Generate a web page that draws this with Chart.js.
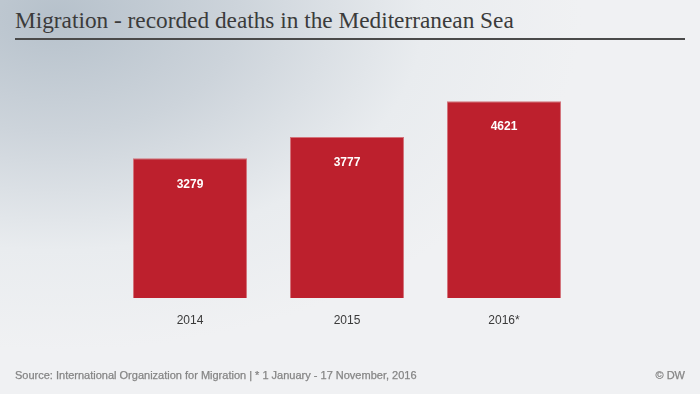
<!DOCTYPE html>
<html>
<head>
<meta charset="utf-8">
<script src="https://cdn.jsdelivr.net/npm/chart.js@4"></script>
<style>
  html, body { margin: 0; padding: 0; }
  body {
    width: 700px; height: 394px; position: relative; overflow: hidden;
    background: radial-gradient(ellipse 75% 85% at 8% 4%, #b6c1cb 0%, #cdd4db 35%, #e9ecef 70%, #f0f1f3 100%);
  }
  #title {
    position: absolute; left: 15px; top: 7px;
    font-family: "Liberation Serif", serif; font-size: 23.3px; color: #3b3b3b;
  }
  #rule { position: absolute; left: 15px; top: 38px; width: 670px; height: 0; border-top: 2px solid #4a4a4a; }
  #source, #dw {
    position: absolute; top: 369px;
    font-family: "Liberation Sans", Arial, sans-serif; font-size: 11px; color: #858585;
    -webkit-text-stroke: 0.25px #858585;
  }
  #source { left: 15px; }
  #dw { right: 15px; }
  canvas { position: absolute; left: 0; top: 0; }
</style>
</head>
<body>
<div id="title">Migration - recorded deaths in the Mediterranean Sea</div>
<div id="rule"></div>
<canvas id="chart" width="700" height="394"></canvas>
<div id="source">Source: International Organization for Migration | * 1 January - 17 November, 2016</div>
<div id="dw">© DW</div>
<script>
// données
const years = ['2014', '2015', '2016*'];
const deaths = [3279, 3777, 4621];

// étiquettes blanches dans les barres
const barLabels = {
  id: 'barLabels',
  afterDatasetsDraw(chart) {
    const ctx = chart.ctx;
    const meta = chart.getDatasetMeta(0);
    ctx.save();
    ctx.fillStyle = '#ffffff';
    ctx.font = 'bold 12px "Liberation Sans", Arial, sans-serif';
    ctx.textAlign = 'center';
    ctx.textBaseline = 'middle';
    meta.data.forEach((bar, i) => {
      ctx.fillText(deaths[i], bar.x, bar.y + 26);
    });
    ctx.restore();
  }
};

new Chart(document.getElementById('chart'), {
  type: 'bar',
  data: {
    labels: years,
    datasets: [{
      data: deaths,
      backgroundColor: '#bd202d',
      borderColor: '#d3737b',
      borderWidth: 1,
      barPercentage: 0.726,
      categoryPercentage: 1
    }]
  },
  options: {
    responsive: false,
    animation: false,
    layout: { padding: { top: 85, left: 111.5, right: 117.5, bottom: 56 } },
    scales: {
      x: {
        grid: { display: false, drawTicks: false },
        border: { display: false },
        ticks: { color: '#3a3a3a', padding: 15, font: { size: 12, family: '"Liberation Sans", Arial, sans-serif' } },
        afterFit(scale) { scale.height = 40; }
      },
      y: { display: false, min: 0, max: 5000 }
    },
    plugins: { legend: { display: false }, tooltip: { enabled: false } }
  },
  plugins: [barLabels]
});
</script>
</body>
</html>
